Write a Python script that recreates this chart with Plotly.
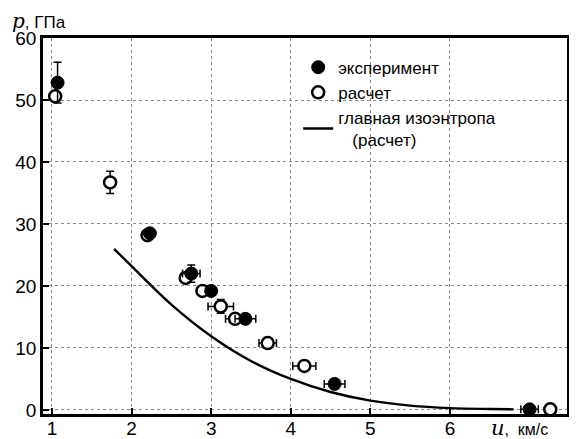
import plotly.graph_objects as go

# Experiment (filled markers)
exp_u = [1.07, 2.23, 2.75, 3.00, 3.43, 4.55, 7.00]
exp_p = [52.8, 28.5, 22.0, 19.2, 14.7, 4.2, 0.1]
exp_du = [0, 0, 0.11, 0, 0.13, 0.13, 0.11]
exp_dp = [3.3, 0, 1.4, 0, 0, 0, 0]

# Calculation (open markers)
calc_u = [1.04, 1.73, 2.20, 2.68, 2.89, 3.12, 3.30, 3.71, 4.17, 7.26]
calc_p = [50.6, 36.7, 28.2, 21.3, 19.2, 16.7, 14.7, 10.8, 7.1, 0.1]
calc_du = [0, 0, 0, 0, 0, 0.16, 0.12, 0.11, 0.145, 0]
calc_dp = [0, 1.8, 0, 0, 0, 1.1, 0, 0, 0, 0]

# Principal isentrope (calculation)
isen_u = [1.78, 2.0, 2.5, 3.0, 3.5, 4.0, 4.5, 5.0, 5.5, 6.0, 6.5, 6.8]
isen_p = [26.0, 23.2, 17.0, 11.9, 7.9, 5.0, 2.9, 1.5, 0.7, 0.3, 0.15, 0.1]

x_ticks = [1, 2, 3, 4, 5, 6]
y_ticks = [0, 10, 20, 30, 40, 50, 60]

SANS = "Liberation Sans, Arial, sans-serif"

fig = go.Figure()

fig.add_trace(go.Scatter(
    x=isen_u, y=isen_p, mode="lines", line=dict(color="black", width=2.4, shape="spline"),
    name="главная изоэнтропа<br>   (расчет)", legendrank=3))

fig.add_trace(go.Scatter(
    x=calc_u, y=calc_p, mode="markers", name="расчет", legendrank=2,
    marker=dict(symbol="circle", size=12, color="white", line=dict(color="black", width=2.5)),
    error_x=dict(type="data", array=calc_du, color="black", thickness=1.5, width=4),
    error_y=dict(type="data", array=calc_dp, color="black", thickness=1.5, width=4)))

fig.add_trace(go.Scatter(
    x=exp_u, y=exp_p, mode="markers", name="эксперимент", legendrank=1,
    marker=dict(symbol="circle", size=13, color="black", line=dict(color="black", width=1)),
    error_x=dict(type="data", array=exp_du, color="black", thickness=1.5, width=4),
    error_y=dict(type="data", array=exp_dp, color="black", thickness=1.5, width=4)))

axis_common = dict(
    showline=True, linecolor="black", linewidth=2.5, mirror=True,
    ticks="inside", ticklen=6, tickwidth=2, tickcolor="black",
    showgrid=True, gridcolor="#888888", griddash="dot", gridwidth=1,
    zeroline=False, automargin=False,
    tickfont=dict(family=SANS, size=19, color="black"),
)

fig.update_xaxes(range=[0.887, 7.47], tickvals=x_ticks, ticklabelstandoff=-5, **axis_common)
fig.update_yaxes(range=[-0.65, 60], tickvals=y_ticks, **axis_common)

fig.update_layout(
    width=569, height=431,
    margin=dict(l=35, r=10, t=30, b=25, autoexpand=False),
    plot_bgcolor="white", paper_bgcolor="white",
    font=dict(family=SANS, color="black"),
    legend=dict(x=0.487, y=0.969, xanchor="left", yanchor="top",
                bgcolor="rgba(0,0,0,0)", font=dict(family=SANS, size=17, color="black"),
                tracegroupgap=0, itemwidth=30),
    annotations=[
        dict(xref="paper", yref="paper", x=-0.062, y=1.046, xanchor="left", yanchor="middle",
             showarrow=False, borderpad=0,
             text="<span style='font-family:DejaVu Serif;font-style:italic;font-size:20px'>p</span>, ГПа",
             font=dict(family=SANS, size=17, color="black")),
        dict(xref="paper", yref="paper", x=0.853, y=-0.037, xanchor="left", yanchor="middle",
             showarrow=False, borderpad=0,
             text="<span style='font-family:DejaVu Serif;font-style:italic;font-size:21px'>u</span>,  км/с",
             font=dict(family=SANS, size=16, color="black")),
    ],
)

fig.write_html("out.html")
